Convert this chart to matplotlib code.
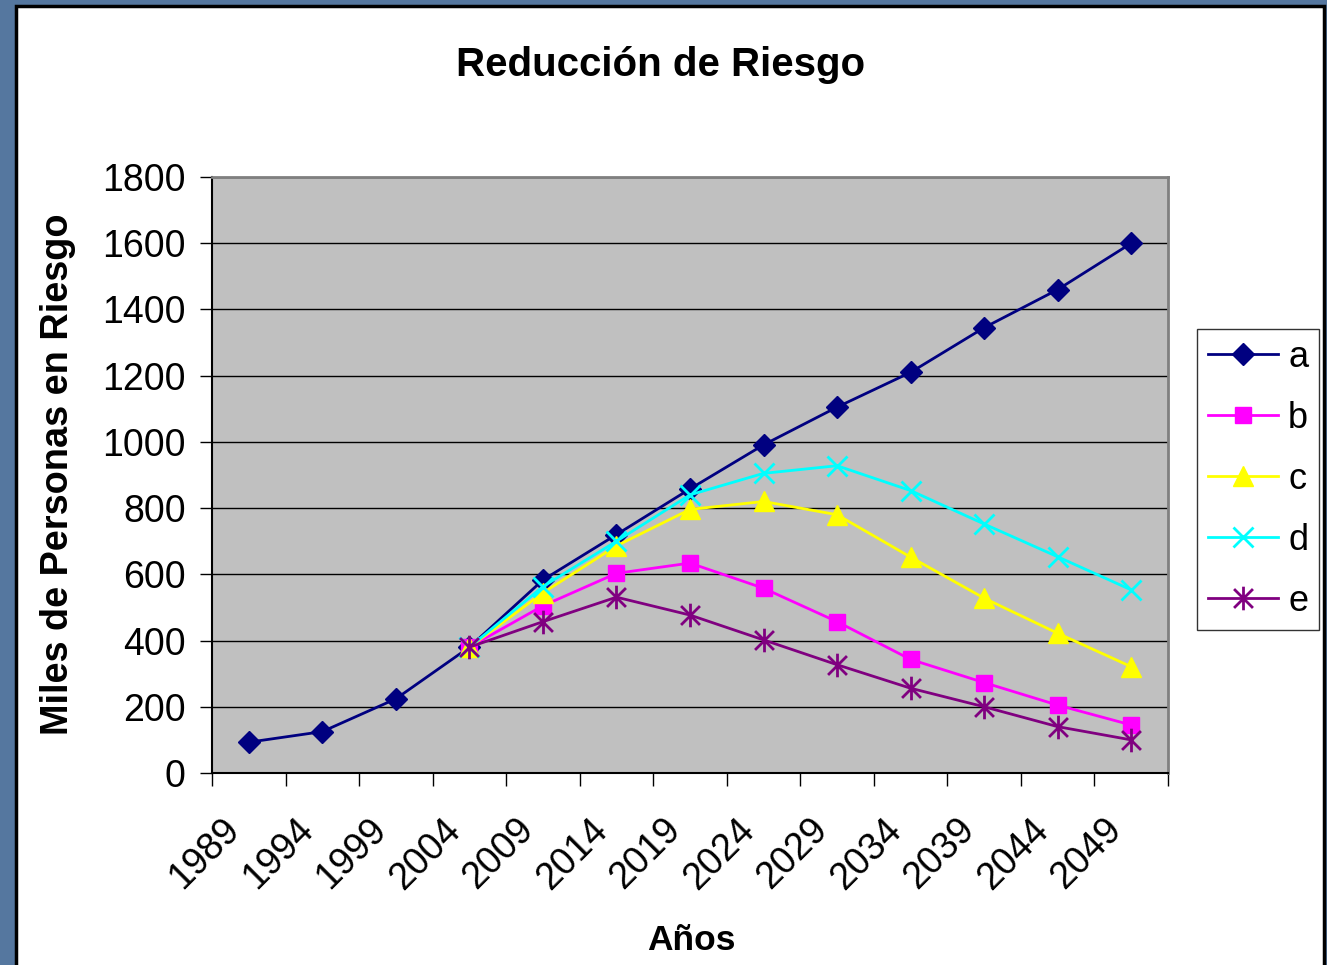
import numpy as np
import matplotlib
matplotlib.use("Agg")
import matplotlib.pyplot as plt
from matplotlib.patches import Rectangle
from matplotlib.path import Path
from matplotlib.transforms import ScaledTranslation

plt.rcParams['font.family'] = ['Liberation Sans', 'DejaVu Sans']

# ---- data ----
tick_years = ["1989", "1994", "1999", "2004", "2009", "2014", "2019",
              "2024", "2029", "2034", "2039", "2044", "2049"]
nan = np.nan
series_a = [93, 125, 224, 380, 583, 720, 858, 991, 1105, 1210, 1345, 1460, 1600]
series_b = [nan, nan, nan, 380, 505, 603, 634, 558, 457, 343, 273, 205, 145]
series_c = [nan, nan, nan, 380, 544, 686, 796, 820, 780, 652, 528, 422, 321]
series_d = [nan, nan, nan, 380, 563, 700, 840, 905, 928, 853, 752, 653, 553]
series_e = [nan, nan, nan, 380, 457, 531, 477, 402, 327, 256, 200, 140, 100]
series_names = ["a", "b", "c", "d", "e"]

title = "Reducción de Riesgo"
ylabel = "Miles de Personas en Riesgo"
xlabel = "Años"

# ---- figure ----
W, H, DPI = 1327, 965, 100
fig = plt.figure(figsize=(W / DPI, H / DPI), dpi=DPI)
fig.patch.set_facecolor('#55779f')
bg = Rectangle((16 / W, -0.01), (1324 - 16) / W, (965 - 6) / H + 0.01,
               transform=fig.transFigure, facecolor='white',
               edgecolor='black', linewidth=2.5, zorder=-10)
fig.patches.append(bg)

ax = fig.add_axes([212 / W, (H - 773) / H, (1168 - 212) / W, (773 - 177) / H])
ax.set_zorder(1)
ax.set_facecolor('#C0C0C0')

# asterisk marker (Excel style)
ast = Path([(0, -1), (0, 1), (-0.8, -0.8), (0.8, 0.8), (-0.8, 0.8), (0.8, -0.8)],
           [Path.MOVETO, Path.LINETO, Path.MOVETO, Path.LINETO, Path.MOVETO, Path.LINETO])

x = np.arange(len(tick_years)) + 0.5
styles = [
    dict(color='#000080', marker='D', ms=11, mfc='#000080', mec='#000080'),
    dict(color='#FF00FF', marker='s', ms=12, mfc='#FF00FF', mec='#FF00FF'),
    dict(color='#FFFF00', marker='^', ms=14, mfc='#FFFF00', mec='#FFFF00'),
    dict(color='#00FFFF', marker='x', ms=14, mew=2, mfc='none', mec='#00FFFF'),
    dict(color='#800080', marker=ast, ms=17, mew=2, mfc='none', mec='#800080'),
]
for data, name, st in zip([series_a, series_b, series_c, series_d, series_e], series_names, styles):
    ax.plot(x, data, lw=2, label=name, zorder=3, **st)

ax.set_xlim(0, len(tick_years))
ax.set_ylim(0, 1800)
ax.set_yticks(np.arange(0, 1801, 200))
ax.yaxis.grid(True, color='black', lw=1)
ax.set_axisbelow(True)

ax.tick_params(axis='both', direction='out', length=9, width=1, labelsize=27, color='black')
ax.tick_params(axis='x', pad=28)
ax.tick_params(axis='y', pad=10)

ax.set_xticks(np.arange(len(tick_years) + 1))
ax.set_xticklabels(tick_years + [""], rotation=45, ha='right', va='center',
                   rotation_mode='anchor')
for lab in ax.get_xticklabels():
    lab.set_transform(lab.get_transform() + ScaledTranslation(22 / DPI, 0, fig.dpi_scale_trans))

for s in ['top', 'right']:
    ax.spines[s].set_color('#808080')
    ax.spines[s].set_linewidth(2)
for s in ['left', 'bottom']:
    ax.spines[s].set_color('black')
    ax.spines[s].set_linewidth(1.5)

fig.text(661 / W, 1 - 65 / H, title, ha='center', va='center', fontsize=29, fontweight='bold')
fig.text(58 / W, 1 - 474 / H, ylabel, ha='center', va='center', rotation=90,
         fontsize=27.3, fontweight='bold')
fig.text(691 / W, 1 - 940 / H, xlabel, ha='center', va='center', fontsize=25.5, fontweight='bold')

leg = ax.legend(loc='upper left', bbox_to_anchor=(1197 / W, 1 - 329 / H),
                bbox_transform=fig.transFigure, fontsize=26, frameon=True,
                fancybox=False, handlelength=1.94, handletextpad=0.28,
                labelspacing=0.72, borderpad=0.3, borderaxespad=0)
leg.get_frame().set_edgecolor('black')
leg.get_frame().set_linewidth(1)

fig.savefig('out.png', dpi=DPI, facecolor=fig.get_facecolor())
